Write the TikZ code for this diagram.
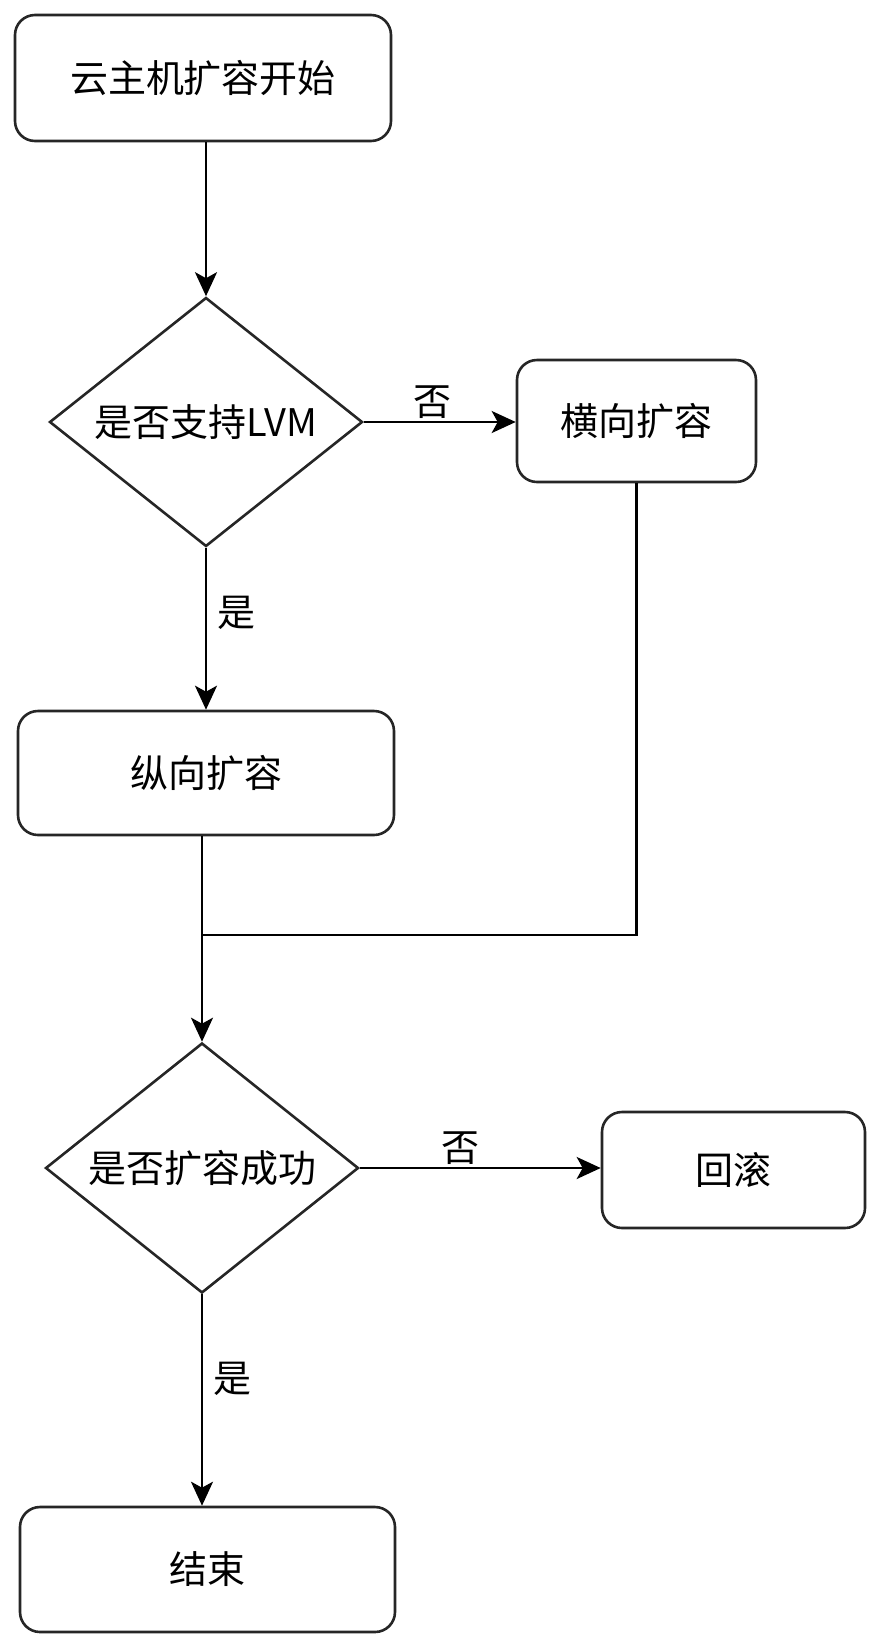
\documentclass[tikz,border=0pt]{standalone}
\usepackage{fontspec}
\setmainfont{Noto Sans CJK SC}
\usetikzlibrary{shapes.geometric,arrows.meta}
\begin{document}
\begin{tikzpicture}[x=1pt,y=-1pt,
  every node/.style={font=\fontsize{38}{42}\selectfont, text=black},
  box/.style={draw=black!85, line width=2.6pt, rounded corners=20pt, inner sep=0pt},
  dec/.style={draw=black!85, line width=2.6pt, diamond, inner sep=0pt, aspect=1},
  conn/.style={draw=black, line width=2.6pt, -{Stealth[length=24pt,width=22pt,inset=6pt]}},
  plain/.style={draw=black, line width=2.6pt},
  lab/.style={inner sep=2pt}]
\useasboundingbox (0,0) rectangle (881,1650);
\node[box, minimum width=376pt, minimum height=126pt] (start) at (203,78) {云主机扩容开始};
\node[dec, minimum width=313pt, minimum height=249pt] (d1) at (206,422) {\makebox[0pt]{是否支持LVM}};
\node[box, minimum width=239pt, minimum height=122pt] (heng) at (636.5,421) {横向扩容};
\node[box, minimum width=376pt, minimum height=124pt] (zong) at (206,773) {纵向扩容};
\node[dec, minimum width=313pt, minimum height=250pt] (d2) at (202,1168) {\makebox[0pt]{是否扩容成功}};
\node[box, minimum width=263pt, minimum height=116pt] (hg) at (733.5,1170) {回滚};
\node[box, minimum width=375pt, minimum height=125pt] (end) at (207.5,1569.5) {结束};
\coordinate (merge) at (202,935);

\draw[conn] (d1.north |- start.south) -- (d1.north);
\draw[conn] (d1.east) -- node[lab, above, pos=0.45] {否} (heng.west |- d1.east);
\draw[conn] (d1.south) -- node[lab, right, pos=0.4, xshift=8pt] {是} (d1.south |- zong.north);
\draw[plain] (merge |- zong.south) -- (merge);
\draw[plain] (heng.south) -- (heng.south |- merge) -- (merge);
\draw[conn] (merge) -- (d2.north);
\draw[conn] (d2.east) -- node[lab, above, pos=0.42] {否} (hg.west |- d2.east);
\draw[conn] (d2.south) -- node[lab, right, pos=0.4, xshift=8pt] {是} (d2.south |- end.north);
\end{tikzpicture}
\end{document}
